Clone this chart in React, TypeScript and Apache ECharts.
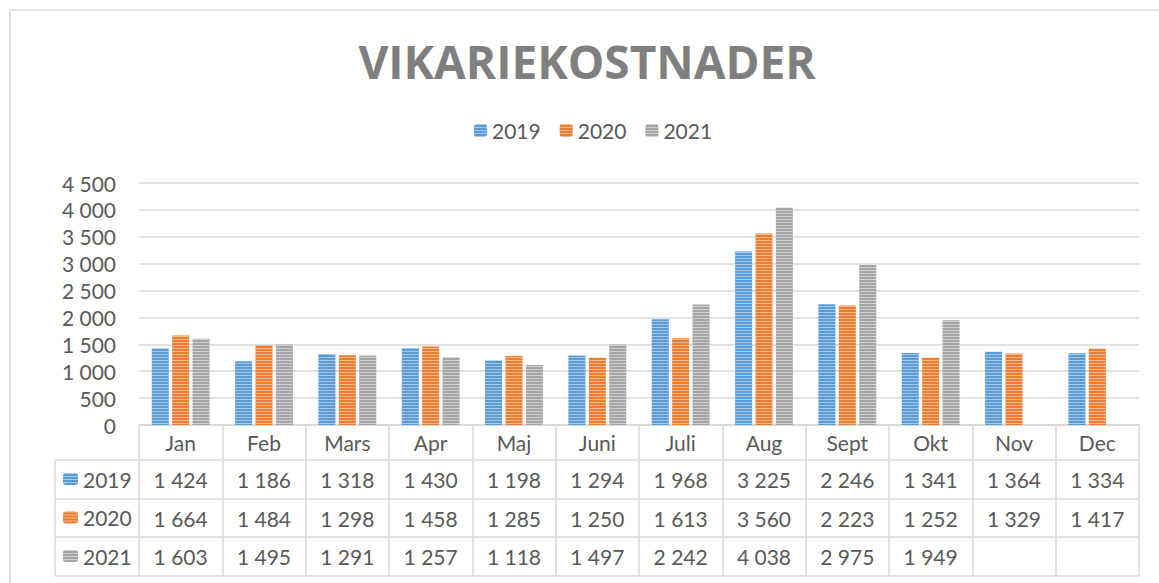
import React, { useEffect, useRef } from "react";
import * as echarts from "echarts";

const months = ["Jan", "Feb", "Mars", "Apr", "Maj", "Juni", "Juli", "Aug", "Sept", "Okt", "Nov", "Dec"];
const years = ["2019", "2020", "2021"];
const v2019 = [1424, 1186, 1318, 1430, 1198, 1294, 1968, 3225, 2246, 1341, 1364, 1334];
const v2020 = [1664, 1484, 1298, 1458, 1285, 1250, 1613, 3560, 2223, 1252, 1329, 1417];
const v2021: (number | null)[] = [1603, 1495, 1291, 1257, 1118, 1497, 2242, 4038, 2975, 1949, null, null];
const seriesValues = [v2019, v2020, v2021];
const colors = ["#5b9bd5", "#ed7d31", "#a5a5a5"];
const title = "VIKARIEKOSTNADER";

const W = 1159;
const H = 583;
const GRID_LEFT = 139;
const GRID_RIGHT = 20;
const GRID_TOP = 183;
const GRID_BOTTOM = 158;
const AXIS_Y = H - GRID_BOTTOM;
const ROW_LINES = [AXIS_Y, 460, 499, 537, 576];
const LABEL_LEFT = 55;
const TEXT = "#595959";
const LINE = "#d9d9d9";
const FONT = "Lato";
const FS = 21;

const fmt = (n: number | null | undefined) =>
  n == null ? "" : String(n).replace(/\B(?=(\d{3})+(?!\d))/g, " ");

const decal = {
  symbol: "rect",
  symbolSize: 1,
  dashArrayX: [1, 0],
  dashArrayY: [1, 2],
  color: "rgba(255,255,255,0.45)",
  rotation: 0,
};

export default function App() {
  const ref = useRef<HTMLDivElement>(null);
  useEffect(() => {
    if (!ref.current) return;
    const chart = echarts.init(ref.current, undefined, { renderer: "svg" });

    const xAxes: any[] = [];
    for (let r = 0; r < 5; r++) {
      const top = ROW_LINES[r];
      const bottom = ROW_LINES[r + 1] ?? top;
      const rowH = bottom - top;
      const vals = r >= 1 && r <= 3 ? seriesValues[r - 1] : null;
      xAxes.push({
        type: "category",
        data: months,
        position: "bottom",
        offset: top - AXIS_Y,
        gridIndex: 0,
        axisLine: { show: true, lineStyle: { color: LINE, width: r === 0 ? 2 : 1.5 } },
        axisTick: { show: r < 4, length: rowH, lineStyle: { color: LINE, width: 1.5 } },
        splitLine: { show: false },
        axisLabel: {
          show: r < 4,
          interval: 0,
          margin: rowH / 2,
          verticalAlign: "middle",
          color: TEXT,
          fontFamily: FONT,
          fontSize: FS,
          formatter: (v: string, i: number) => (vals ? fmt(vals[i]) : v),
        },
      });
    }

    const rowLegends = years.map((y, i) => {
      const center = (ROW_LINES[i + 1] + ROW_LINES[i + 2]) / 2;
      return {
        data: [y],
        left: 63,
        top: center - 11,
        padding: 0,
        itemWidth: 15,
        itemHeight: 12,
        selectedMode: false,
        textStyle: { color: TEXT, fontFamily: FONT, fontSize: FS },
      };
    });

    const graphics: any[] = [
      {
        type: "rect",
        shape: { x: 10, y: 10, width: W + 40, height: H + 40 },
        style: { fill: "none", stroke: LINE, lineWidth: 1.5 },
        z: -10,
        silent: true,
      },
      {
        type: "text",
        x: 587,
        y: 61,
        style: {
          text: title,
          fontFamily: "Open Sans",
          fontWeight: "bold",
          fontSize: 46,
          fill: "#7f7f7f",
          textAlign: "center",
          textVerticalAlign: "middle",
        },
      },
      {
        type: "line",
        shape: { x1: LABEL_LEFT, y1: ROW_LINES[1], x2: LABEL_LEFT, y2: ROW_LINES[4] },
        style: { stroke: LINE, lineWidth: 1.5 },
      },
    ];
    for (let r = 1; r <= 4; r++) {
      graphics.push({
        type: "line",
        shape: { x1: LABEL_LEFT, y1: ROW_LINES[r], x2: GRID_LEFT, y2: ROW_LINES[r] },
        style: { stroke: LINE, lineWidth: 1.5 },
      });
    }

    chart.setOption({
      animation: false,
      backgroundColor: "#ffffff",
      textStyle: { fontFamily: FONT },
      grid: { left: GRID_LEFT, right: GRID_RIGHT, top: GRID_TOP, bottom: GRID_BOTTOM, containLabel: false },
      legend: [
        {
          data: years,
          left: 474,
          top: 120,
          padding: 0,
          itemWidth: 13,
          itemHeight: 13,
          itemGap: 19,
          selectedMode: false,
          textStyle: { color: TEXT, fontFamily: FONT, fontSize: FS },
        },
        ...rowLegends,
      ],
      xAxis: xAxes,
      yAxis: {
        type: "value",
        min: 0,
        max: 4500,
        interval: 500,
        axisLine: { show: false },
        axisTick: { show: false },
        splitLine: { lineStyle: { color: LINE, width: 1.5 } },
        axisLabel: {
          margin: 23,
          color: TEXT,
          fontFamily: FONT,
          fontSize: FS,
          formatter: (v: number) => fmt(v),
        },
      },
      series: years.map((y, i) => ({
        name: y,
        type: "bar",
        xAxisIndex: 0,
        data: seriesValues[i],
        barWidth: 17,
        barGap: "20%",
        itemStyle: { color: colors[i], decal },
      })),
      graphic: graphics,
    });
    return () => chart.dispose();
  }, []);
  return (
    <div
      ref={ref}
      style={{ position: "fixed", left: 0, top: 0, width: W, height: H, background: "#fff" }}
    />
  );
}
